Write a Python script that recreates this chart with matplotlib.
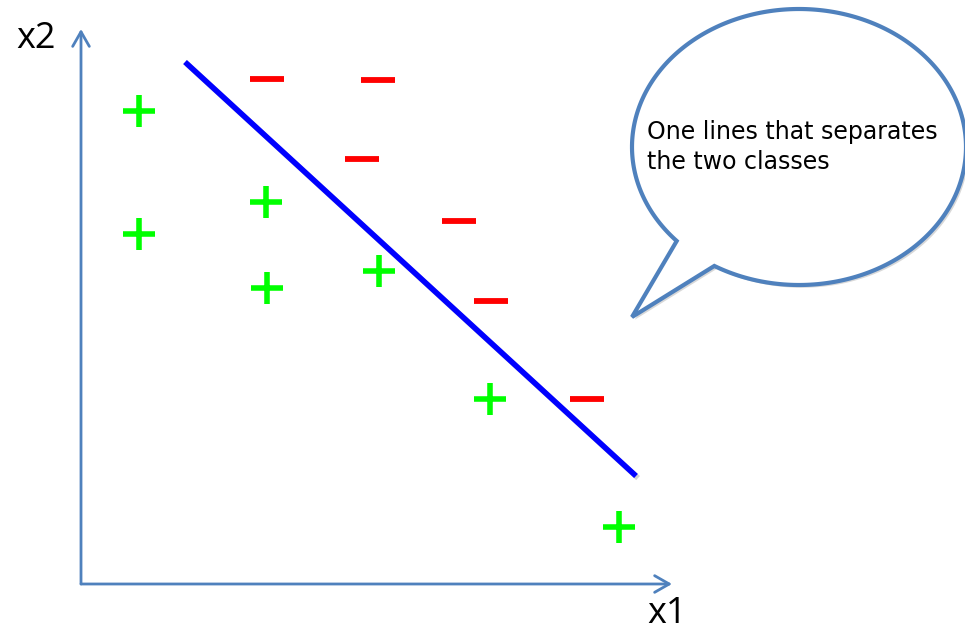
import numpy as np
import matplotlib
matplotlib.use("Agg")
import matplotlib.pyplot as plt
from matplotlib.patches import PathPatch, FancyArrowPatch
from matplotlib.path import Path
import matplotlib.patheffects as pe

# Class "+" samples (x1, x2)
plus_x1 = [58, 58, 185, 186, 298, 409, 538]
plus_x2 = [473, 350, 382, 296, 313, 185, 57]

# Class "-" samples (x1, x2)
minus_x1 = [186, 297, 281, 378, 410, 506]
minus_x2 = [505, 504, 425, 363, 283, 185]

# Separating line end points
sep_x1 = [104, 555]
sep_x2 = [522, 108]

note_text = "One lines that separates\nthe two classes"

axis_color = "#4F81BD"

fig = plt.figure(figsize=(9.65, 6.31), dpi=100)
ax = fig.add_axes([0, 0, 1, 1])
ax.set_xlim(-81, 884)
ax.set_ylim(-47, 584)
ax.axis("off")

# Coordinate axes with open arrowheads
for end in [(591, 0), (0, 555)]:
    arr = FancyArrowPatch((0, 0), end, arrowstyle="->,head_length=7,head_width=4",
                          color=axis_color, lw=2, mutation_scale=1.5,
                          shrinkA=0, shrinkB=0)
    ax.add_patch(arr)

ax.text(-65, 545, "x2", fontsize=26, ha="left", va="center", family="Open Sans")
ax.text(566, -30, "x1", fontsize=26, ha="left", va="center", family="Open Sans")

# Separating line with soft shadow
ax.plot(sep_x1, sep_x2, color="#0000FF", lw=4, solid_capstyle="butt",
        path_effects=[pe.SimpleLineShadow(offset=(1.5, -1.5), shadow_color="gray", alpha=0.35),
                      pe.Normal()])

# Samples
ax.plot(plus_x1, plus_x2, ls="none", marker="+", ms=23, mew=4.0, color="#00FF00")
ax.plot(minus_x1, minus_x2, ls="none", marker="_", ms=24, mew=4.2, color="#FF0000")

# Speech bubble: ellipse outline plus a tail
cx, cy, a, b = 718, 437, 167, 138
p1 = np.array([597, 344])   # tail base on the ellipse
p2 = np.array([634, 319])   # tail base on the ellipse
tip = np.array([551, 267])
t1 = np.arctan2((p1[1] - cy) / b, (p1[0] - cx) / a)
t2 = np.arctan2((p2[1] - cy) / b, (p2[0] - cx) / a)
if t2 < t1:
    t2 += 2 * np.pi
t = np.linspace(t2, t1 + 2 * np.pi, 300)
ex = cx + a * np.cos(t)
ey = cy + b * np.sin(t)
verts = np.column_stack([ex, ey])
verts = np.vstack([verts, tip, verts[:1]])
codes = [Path.MOVETO] + [Path.LINETO] * (len(verts) - 2) + [Path.CLOSEPOLY]
bubble = PathPatch(Path(verts, codes), facecolor="white", edgecolor=axis_color, lw=3,
                   joinstyle="miter", clip_on=False,
                   path_effects=[pe.SimplePatchShadow(offset=(2, -2), shadow_rgbFace="gray", alpha=0.3),
                                 pe.Normal()])
ax.add_patch(bubble)

ax.text(566, 437, note_text, fontsize=17, ha="left", va="center",
        family="DejaVu Sans", linespacing=1.3)

fig.savefig("out.png", dpi=100)
